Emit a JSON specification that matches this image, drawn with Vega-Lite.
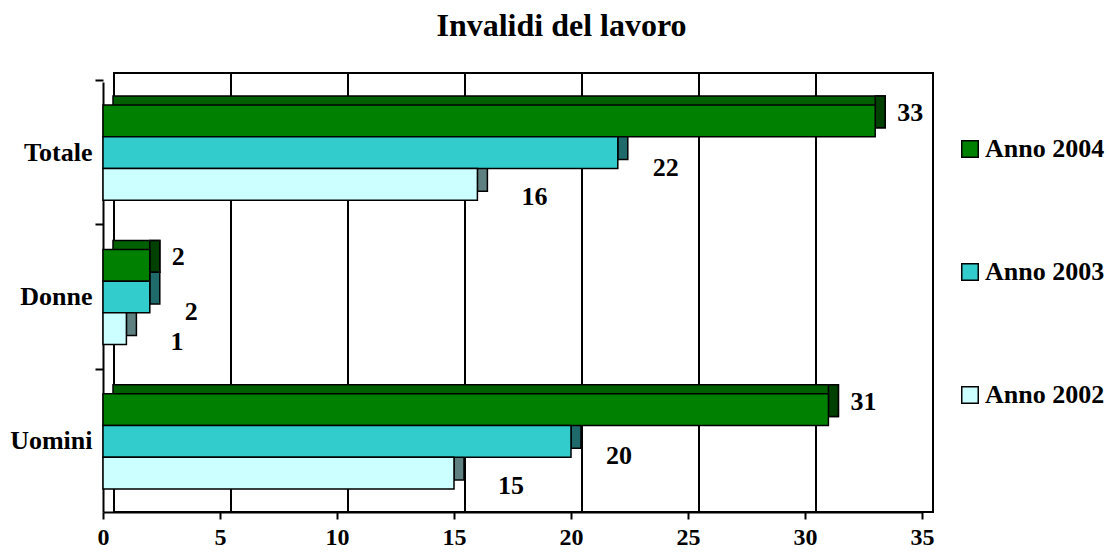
{
  "$schema": "https://vega.github.io/schema/vega-lite/v6.json",
  "width": 819,
  "height": 430,
  "autosize": {"type": "none"},
  "padding": {"left": 103, "top": 82, "right": 187, "bottom": 40},
  "background": "white",
  "title": {"text": "Invalidi del lavoro", "font": "Liberation Serif", "fontSize": 32, "fontWeight": "bold", "color": "black", "anchor": "middle", "dx": 49, "offset": 29},
  "config": {
    "view": {"stroke": null},
    "font": "Liberation Serif",
    "axisX": {"grid": false, "tickCount": 8, "domainColor": "black", "domainWidth": 2, "tickColor": "black", "tickWidth": 2, "tickSize": 7, "labelFont": "Liberation Serif", "labelFontSize": 24, "labelFontWeight": "bold", "labelColor": "black", "labelPadding": 6, "labelFlush": false},
    "axisY": {"grid": false, "domainColor": "black", "domainWidth": 2, "tickColor": "black", "tickWidth": 2, "tickSize": 8, "bandPosition": -0.2576, "labelFont": "Liberation Serif", "labelFontSize": 26, "labelFontWeight": "bold", "labelColor": "black", "labelPadding": 3}
  },
  "data": {"values": [
    {"cat": "Totale", "anno": "Anno 2004", "v": 33},
    {"cat": "Totale", "anno": "Anno 2003", "v": 22},
    {"cat": "Totale", "anno": "Anno 2002", "v": 16},
    {"cat": "Donne", "anno": "Anno 2004", "v": 2},
    {"cat": "Donne", "anno": "Anno 2003", "v": 2},
    {"cat": "Donne", "anno": "Anno 2002", "v": 1},
    {"cat": "Uomini", "anno": "Anno 2004", "v": 31},
    {"cat": "Uomini", "anno": "Anno 2003", "v": 20},
    {"cat": "Uomini", "anno": "Anno 2002", "v": 15}
  ]},
  "resolve": {"scale": {"yOffset": "independent"}},
  "layer": [
    {
      "data": {"values": [{"a": 0, "b": 35}]},
      "mark": {"type": "rect", "fill": "white", "stroke": "black", "strokeWidth": 2, "xOffset": 11, "x2Offset": 11, "yOffset": -9, "y2Offset": -9},
      "encoding": {
        "x": {"field": "a", "type": "quantitative", "title": null, "scale": {"domain": [0, 35], "nice": false, "zero": true}},
        "x2": {"field": "b"}
      }
    },
    {
      "data": {"values": [{"g": 5}, {"g": 10}, {"g": 15}, {"g": 20}, {"g": 25}, {"g": 30}]},
      "mark": {"type": "rule", "stroke": "black", "strokeWidth": 2, "xOffset": 11, "yOffset": -9, "y2Offset": -9},
      "encoding": {
        "x": {"field": "g", "type": "quantitative", "title": null}
      }
    },
    {
      "transform": [{"filter": "datum.anno === 'Anno 2004'"}],
      "mark": {"type": "bar", "color": "#006000", "stroke": "black", "strokeWidth": 1.5, "xOffset": 10, "x2Offset": 10},
      "encoding": {
        "y": {"field": "cat", "type": "nominal", "title": null, "scale": {"domain": ["Totale", "Donne", "Uomini"], "paddingInner": 0.34, "paddingOuter": 0.16}},
        "yOffset": {"field": "anno", "scale": {"domain": ["Anno 2004", "Anno 2003", "Anno 2002"], "range": [-9, 86.24]}},
        "x": {"field": "v", "type": "quantitative", "title": null}
      }
    },
    {
      "transform": [{"filter": "datum.anno === 'Anno 2004'"}],
      "mark": {"type": "bar", "color": "#004000", "stroke": "black", "strokeWidth": 1.5, "xOffset": 10},
      "encoding": {
        "y": {"field": "cat", "type": "nominal", "title": null, "scale": {"domain": ["Totale", "Donne", "Uomini"], "paddingInner": 0.34, "paddingOuter": 0.16}},
        "yOffset": {"field": "anno", "scale": {"domain": ["Anno 2004", "Anno 2003", "Anno 2002"], "range": [-9, 86.24]}},
        "x": {"field": "v", "type": "quantitative", "title": null},
        "x2": {"field": "v"}
      }
    },
    {
      "transform": [{"filter": "datum.anno === 'Anno 2003'"}],
      "mark": {"type": "bar", "color": "#1F6B6B", "stroke": "black", "strokeWidth": 1.5, "xOffset": 10},
      "encoding": {
        "y": {"field": "cat", "type": "nominal", "title": null, "scale": {"domain": ["Totale", "Donne", "Uomini"], "paddingInner": 0.34, "paddingOuter": 0.16}},
        "yOffset": {"field": "anno", "scale": {"domain": ["Anno 2004", "Anno 2003", "Anno 2002"], "range": [-9, 86.24]}},
        "x": {"field": "v", "type": "quantitative", "title": null},
        "x2": {"field": "v"}
      }
    },
    {
      "transform": [{"filter": "datum.anno === 'Anno 2002'"}],
      "mark": {"type": "bar", "color": "#5F8080", "stroke": "black", "strokeWidth": 1.5, "xOffset": 10},
      "encoding": {
        "y": {"field": "cat", "type": "nominal", "title": null, "scale": {"domain": ["Totale", "Donne", "Uomini"], "paddingInner": 0.34, "paddingOuter": 0.16}},
        "yOffset": {"field": "anno", "scale": {"domain": ["Anno 2004", "Anno 2003", "Anno 2002"], "range": [-9, 86.24]}},
        "x": {"field": "v", "type": "quantitative", "title": null},
        "x2": {"field": "v"}
      }
    },
    {
      "mark": {"type": "bar", "stroke": "black", "strokeWidth": 1.5, "opacity": 1},
      "encoding": {
        "y": {"field": "cat", "type": "nominal", "title": null, "scale": {"domain": ["Totale", "Donne", "Uomini"], "paddingInner": 0.34, "paddingOuter": 0.16}},
        "yOffset": {"field": "anno", "scale": {"domain": ["Anno 2004", "Anno 2003", "Anno 2002"]}},
        "x": {"field": "v", "type": "quantitative", "title": null, "scale": {"domain": [0, 35], "nice": false, "zero": true}},
        "color": {"field": "anno", "type": "nominal",
          "scale": {"domain": ["Anno 2004", "Anno 2003", "Anno 2002"], "range": ["#008000", "#33CCCC", "#CCFFFF"]},
          "legend": {"title": null, "orient": "none", "legendX": 854, "legendY": 54, "symbolType": "square", "symbolSize": 272, "symbolStrokeColor": "black", "symbolStrokeWidth": 1.5, "symbolOpacity": 1, "labelFont": "Liberation Serif", "labelFontSize": 26, "labelFontWeight": "bold", "labelColor": "black", "rowPadding": 97, "labelOffset": 2, "padding": 0, "labelLimit": 200}}
      }
    },
    {
      "transform": [{"filter": "datum.anno === 'Anno 2004'"}],
      "mark": {"type": "text", "align": "left", "baseline": "middle", "dx": 22, "dy": -8, "font": "Liberation Serif", "fontSize": 26, "fontWeight": "bold", "color": "black"},
      "encoding": {
        "y": {"field": "cat", "type": "nominal", "title": null, "scale": {"domain": ["Totale", "Donne", "Uomini"], "paddingInner": 0.34, "paddingOuter": 0.16}},
        "yOffset": {"field": "anno", "scale": {"domain": ["Anno 2004", "Anno 2003", "Anno 2002"]}},
        "x": {"field": "v", "type": "quantitative", "title": null},
        "text": {"field": "v", "type": "quantitative"}
      }
    },
    {
      "transform": [{"filter": "datum.anno === 'Anno 2003'"}],
      "mark": {"type": "text", "align": "left", "baseline": "middle", "dx": 35, "dy": 15, "font": "Liberation Serif", "fontSize": 26, "fontWeight": "bold", "color": "black"},
      "encoding": {
        "y": {"field": "cat", "type": "nominal", "title": null, "scale": {"domain": ["Totale", "Donne", "Uomini"], "paddingInner": 0.34, "paddingOuter": 0.16}},
        "yOffset": {"field": "anno", "scale": {"domain": ["Anno 2004", "Anno 2003", "Anno 2002"]}},
        "x": {"field": "v", "type": "quantitative", "title": null},
        "text": {"field": "v", "type": "quantitative"}
      }
    },
    {
      "transform": [{"filter": "datum.anno === 'Anno 2002'"}],
      "mark": {"type": "text", "align": "left", "baseline": "middle", "dx": 44, "dy": 13, "font": "Liberation Serif", "fontSize": 26, "fontWeight": "bold", "color": "black"},
      "encoding": {
        "y": {"field": "cat", "type": "nominal", "title": null, "scale": {"domain": ["Totale", "Donne", "Uomini"], "paddingInner": 0.34, "paddingOuter": 0.16}},
        "yOffset": {"field": "anno", "scale": {"domain": ["Anno 2004", "Anno 2003", "Anno 2002"]}},
        "x": {"field": "v", "type": "quantitative", "title": null},
        "text": {"field": "v", "type": "quantitative"}
      }
    }
  ]
}
